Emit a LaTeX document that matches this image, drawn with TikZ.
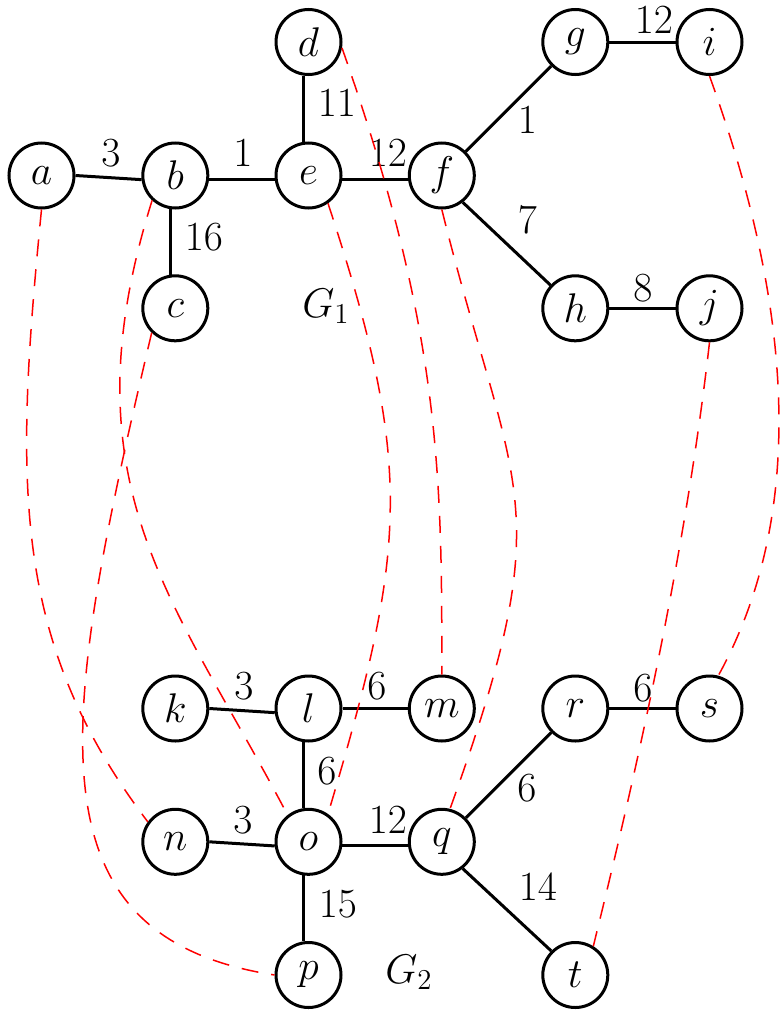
\documentclass[tikz,border=0pt]{standalone}
\newcommand\myfnt{\fontsize{19.3}{23}\selectfont}
\tikzset{
  vtx/.style={circle, draw, line width=1.5pt, minimum size=32.5pt, inner sep=0pt, font=\myfnt},
  edg/.style={line width=1.5pt},
  lbl/.style={inner sep=0pt, font=\myfnt},
  match/.style={red, line width=0.75pt, dash pattern=on 8.5pt off 6.5pt},
}
\begin{document}
\begin{tikzpicture}[x=0.5pt, y=-0.5pt]
\useasboundingbox (0,0) rectangle (783,1017);
% G1 vertices
\node[vtx] (a) at (41.5,175.5) {$a$};
\node[vtx] (b) at (175.3,175.5) {$b$};
\node[vtx] (c) at (175.3,308.3) {$c$};
\node[vtx] (d) at (308.5,42) {$d$};
\node[vtx] (e) at (308.5,175.5) {$e$};
\node[vtx] (f) at (441.8,175.5) {$f$};
\node[vtx] (g) at (575.3,42) {$g$};
\node[vtx] (h) at (575.3,308.3) {$h$};
\node[vtx] (i) at (709.5,42) {$i$};
\node[vtx] (j) at (709.5,308.3) {$j$};
% G2 vertices
\node[vtx] (k) at (175.3,708.5) {$k$};
\node[vtx] (l) at (308.5,708.5) {$l$};
\node[vtx] (m) at (441.8,708.5) {$m$};
\node[vtx] (n) at (175.3,841.8) {$n$};
\node[vtx] (o) at (308.5,841.8) {$o$};
\node[vtx] (p) at (308.5,975) {$p$};
\node[vtx] (q) at (441.8,841.8) {$q$};
\node[vtx] (r) at (575.3,708.5) {$r$};
\node[vtx] (s) at (709.5,708.5) {$s$};
\node[vtx] (t) at (575.3,975) {$t$};
% G1 edges
\draw[edg] (a.0) -- (b.187);
\draw[edg] (b.-7) -- (e.187);
\draw[edg] (b.262) -- (c.98);
\draw[edg] (d.261) -- (e.99);
\draw[edg] (e.-7) -- (f.187);
\draw[edg] (f) -- (g);
\draw[edg] (f.-52) -- (h.137);
\draw[edg] (g) -- (i);
\draw[edg] (h) -- (j);
% G2 edges
\draw[edg] (k.0) -- (l.187);
\draw[edg] (l) -- (m);
\draw[edg] (l.262) -- (o.98);
\draw[edg] (n.0) -- (o.187);
\draw[edg] (o.-6) -- (q.186);
\draw[edg] (o.262) -- (p.98);
\draw[edg] (q) -- (r);
\draw[edg] (q.-52) -- (t.135);
\draw[edg] (r) -- (s);
% edge labels
\node[lbl] (wab) at (111,153) {$3$};
\node[lbl] (wbe) at (243,153) {$1$};
\node[lbl] (wbc) at (204,237) {$16$};
\node[lbl] (wde) at (337,103) {$11$};
\node[lbl] (wef) at (388,153) {$12$};
\node[lbl] (wfg) at (527.5,120) {$1$};
\node[lbl] (wfh) at (527.5,220) {$7$};
\node[lbl] (wgi) at (654,20) {$12$};
\node[lbl] (whj) at (643,288.5) {$8$};
\node[lbl] (wkl) at (244,686) {$3$};
\node[lbl] (wlm) at (377,686) {$6$};
\node[lbl] (wlo) at (327,771) {$6$};
\node[lbl] (wno) at (243,820) {$3$};
\node[lbl] (woq) at (388,820) {$12$};
\node[lbl] (wop) at (338,904) {$15$};
\node[lbl] (wqr) at (527,788) {$6$};
\node[lbl] (wqt) at (538,887) {$14$};
\node[lbl] (wrs) at (643,688) {$6$};
% graph names
\node[lbl, anchor=base west] (G1) at (302,317) {$G_1$};
\node[lbl, anchor=base west] (G2) at (385,983) {$G_2$};
% matching curves
\draw[match] (a.270) .. controls (15,480) and (10,640) .. (n.144);
\draw[match] (b.227) .. controls (63,485) and (175,600) .. (o.128);
\draw[match] (c.226) .. controls (60,721) and (24,936) .. (p.180);
\draw[match] (d.-10) .. controls (441,330) and (442,475) .. (m.90);
\draw[match] (e.-55) .. controls (415,468) and (407,548) .. (o.55);
\draw[match] (f.270) .. controls (514,500) and (562,498) .. (q.76);
\draw[match] (i.270) .. controls (784,282) and (815,500) .. (s.75);
\draw[match] (j.270) .. controls (687,541) and (642,749) .. (t.58);
\end{tikzpicture}
\end{document}
